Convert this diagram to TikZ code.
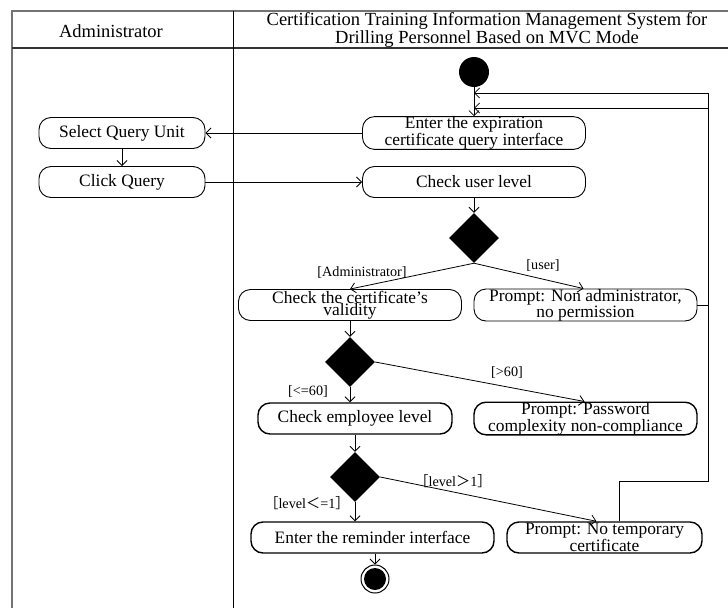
\documentclass[tikz,border=0pt]{standalone}
\usepackage{fontspec}
\setmainfont{Liberation Serif}
\newfontfamily\cjkfont{Noto Sans CJK SC}
\usetikzlibrary{arrows.meta,shapes.geometric,calc}

\begin{document}
\begin{tikzpicture}[x=1pt,y=-1pt,
  act/.style={draw, rounded corners=12pt, line width=0.9pt, minimum height=31pt,
    inner sep=0pt, align=center, font=\fontsize{17.4}{12.5}\selectfont},
  actb/.style={act, line width=1.4pt},
  dec/.style={diamond, fill=black, minimum width=50pt, minimum height=50pt, inner sep=0pt},
  flow/.style={-{Straight Barb[length=5pt,width=10pt]}, line width=0.8pt},
  guard/.style={inner sep=0pt, font=\fontsize{14.2}{14}\selectfont},
  head/.style={inner sep=0pt, align=center, font=\fontsize{18.5}{13}\selectfont},
  lane/.style={line width=1.4pt, draw=black!55},
]
\useasboundingbox (0,0) rectangle (728,608);

% swimlane frame
\draw[lane] (12,608) -- (12,11) -- (728,11);
\draw[line width=1.4pt, draw=black!80] (12,48) -- (728,48);
\draw[line width=1pt] (233,11) -- (233,608);
\node[head] (hAdmin) at (111,31) {Administrator};
\node[head] (hSys) at (487,30) {Certification Training Information Management System for\\Drilling Personnel Based on MVC Mode};

% activities
\node[circle, fill, minimum size=30pt, inner sep=0pt] (start) at (474,72) {};
\node[act, minimum width=166pt] (select) at (122,133) {Select Query Unit};
\node[act, minimum width=166pt] (click) at (122,182) {Click Query};
\node[act, minimum width=223pt] (enter) at (474,133) {Enter the expiration\\certificate query interface};
\node[act, minimum width=223pt] (checkuser) at (474,182) {Check user level};
\node[dec] (d1) at (474,238) {};
\node[act, minimum width=223pt] (valid) at (350,305) {Check the certificate's\\validity};
\node[act, minimum width=223pt] (noperm) at (585.5,305) {Prompt: Non administrator,\\no permission};
\node[dec] (d2) at (350,362) {};
\node[actb, minimum width=194pt] (emp) at (355,418.5) {Check employee level};
\node[actb, minimum width=223pt] (pwd) at (585.5,418.5) {Prompt: Password\\complexity non-compliance};
\node[dec] (d3) at (355,477) {};
\node[actb, minimum width=243pt] (remind) at (372.5,537.5) {Enter the reminder interface};
\node[actb, minimum width=195pt] (notemp) at (604.5,537.5) {Prompt: No temporary\\certificate};
\node[circle, draw, line width=1pt, minimum size=28pt, inner sep=0pt,
  path picture={\fill (path picture bounding box.center) circle (11pt);}] (stop) at (375,579) {};

% guards
\node[guard] (gAdmin) at (362,273) {[Administrator]};
\node[guard] (gUser) at (543,266) {[user]};
\node[guard] (gLow) at (308,392) {[<=60]};
\node[guard] (gHigh) at (507,373) {[>60]};
\node[guard] (gLvHigh) at (453,481) {{\cjkfont［}level{\cjkfont ＞}1{\cjkfont］}};
\node[guard] (gLvLow) at (307,503) {{\cjkfont［}level{\cjkfont ＜}=1{\cjkfont］}};

% loop-back rail
\coordinate (rail) at (708,0);
\coordinate (loopA) at (474,108);
\coordinate (loopB) at (474,93);
\coordinate (bend) at (619,481);

% flows
\draw[flow] (start.south) -- (enter.north);
\draw[flow] (enter.west) -- (select.east);
\draw[flow] (select) -- (click);
\draw[flow] (click.east) -- (checkuser.west);
\draw[flow] (checkuser) -- (d1);
\draw[flow] (d1.south) -- (valid.north);
\draw[flow] (d1.south) -- ([xshift=-2pt]noperm.north);
\draw[flow] (valid) -- (d2);
\draw[flow] (d2.south) -- (d2.south |- emp.north);
\draw[flow] (d2.east) -- ([xshift=-1pt]pwd.north);
\draw[flow] (emp) -- (d3);
\draw[flow] (d3.south) -- (d3.south |- remind.north);
\draw[flow] (d3.east) -- ([xshift=-8pt]notemp.north);
\draw[flow] (remind.south -| stop) -- (stop);
\draw[flow] (noperm.east) -- (noperm.east -| rail) -- (rail |- loopA) -- (loopA);
\draw[flow] (bend |- notemp.north) -- (bend) -- (bend -| rail) -- (rail |- loopB) -- (loopB);
\end{tikzpicture}
\end{document}
